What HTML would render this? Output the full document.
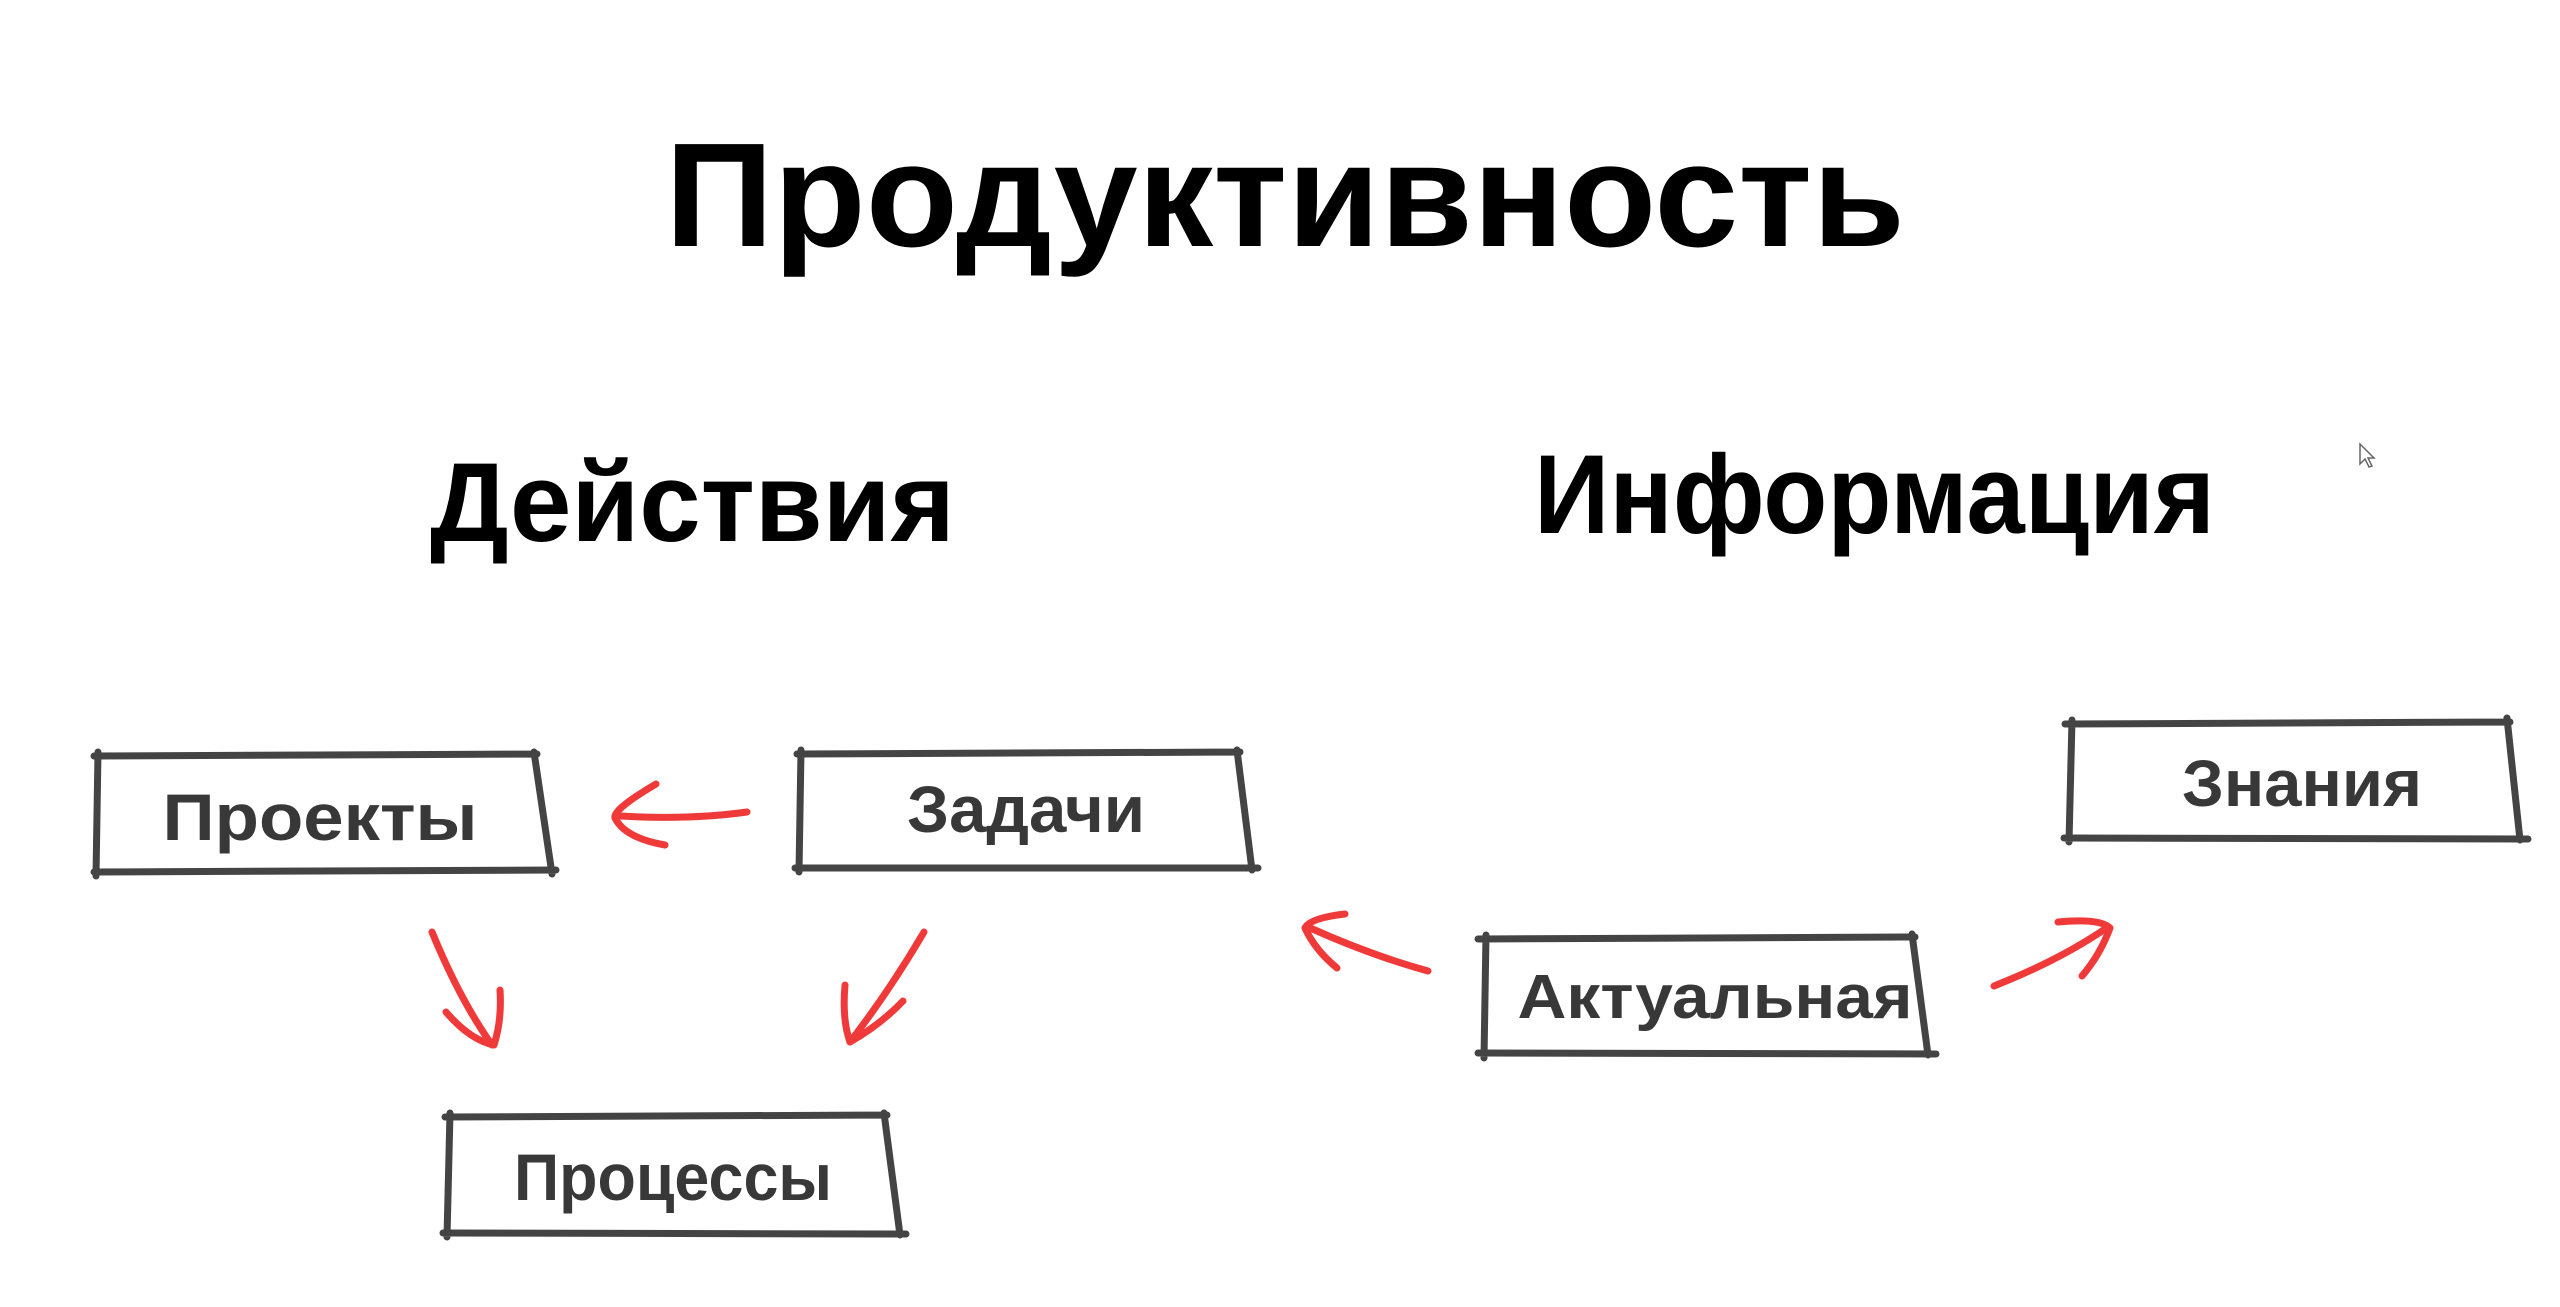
<!DOCTYPE html>
<html><head><meta charset="utf-8"><style>
html,body{margin:0;padding:0;background:#fff;width:2560px;height:1307px;overflow:hidden}
svg{display:block}
text{font-family:"Liberation Sans","DejaVu Sans",sans-serif}
</style></head><body>
<svg width="2560" height="1307" viewBox="0 0 2560 1307" xmlns="http://www.w3.org/2000/svg">
<g fill="#000" font-weight="bold">
<text x="665" y="246" font-size="148" textLength="1240" lengthAdjust="spacingAndGlyphs">Продуктивность</text>
<text x="430" y="541" font-size="112" textLength="525" lengthAdjust="spacingAndGlyphs">Действия</text>
<text x="1534" y="533" font-size="112" textLength="681" lengthAdjust="spacingAndGlyphs">Информация</text>
</g>
<g stroke="#444" stroke-width="7" stroke-linecap="round" fill="none">
<path d="M94 756 L537 754 M98 752 L96 876 M534 752 L552 874 M94 872 L556 870"/>
<path d="M797 754 L1240 752 M801 750 L799 872 M1237 750 L1252 870 M795 868 L1258 868"/>
<path d="M445 1117 L887 1115 M450 1113 L447 1237 M884 1113 L900 1235 M443 1233 L906 1234"/>
<path d="M2065 724 L2510 722 M2072 720 L2069 842 M2507 718 L2520 840 M2064 838 L2528 839"/>
<path d="M1478 939 L1915 937 M1486 935 L1484 1058 M1912 934 L1928 1055 M1478 1053 L1936 1054"/>
</g>
<g stroke="#f03a3a" stroke-width="7" stroke-linecap="round" stroke-linejoin="round" fill="none">
<path d="M747 812 Q690 820 620 816"/>
<path d="M656 784 Q612 810 615 818 Q625 838 665 845"/>
<path d="M432 932 Q460 1000 492 1045"/>
<path d="M446 1012 Q470 1040 494 1045 Q502 1020 500 990"/>
<path d="M924 932 Q890 990 850 1042"/>
<path d="M845 985 Q842 1020 850 1042 Q880 1025 903 1001"/>
<path d="M1428 971 Q1370 955 1308 927"/>
<path d="M1345 914 Q1310 918 1305 928 Q1315 950 1337 968"/>
<path d="M1994 986 Q2060 960 2108 927"/>
<path d="M2058 922 Q2100 918 2110 928 Q2100 955 2082 976"/>
</g>
<g fill="#383838" font-weight="bold">
<text x="320" y="840" font-size="66" text-anchor="middle" textLength="315" lengthAdjust="spacingAndGlyphs">Проекты</text>
<text x="1026" y="832" font-size="66" text-anchor="middle" textLength="238" lengthAdjust="spacingAndGlyphs">Задачи</text>
<text x="673" y="1200" font-size="66" text-anchor="middle" textLength="318" lengthAdjust="spacingAndGlyphs">Процессы</text>
<text x="2302" y="806" font-size="66" text-anchor="middle" textLength="240" lengthAdjust="spacingAndGlyphs">Знания</text>
<text x="1715" y="1018" font-size="62" text-anchor="middle" textLength="395" lengthAdjust="spacingAndGlyphs">Актуальная</text>
</g>
<path d="M2360 444 L2360 464 L2365 459 L2369 467 L2372 466 L2368 458 L2374 458 Z" fill="#fff" stroke="#666" stroke-width="1.5"/>
</svg>
</body></html>
